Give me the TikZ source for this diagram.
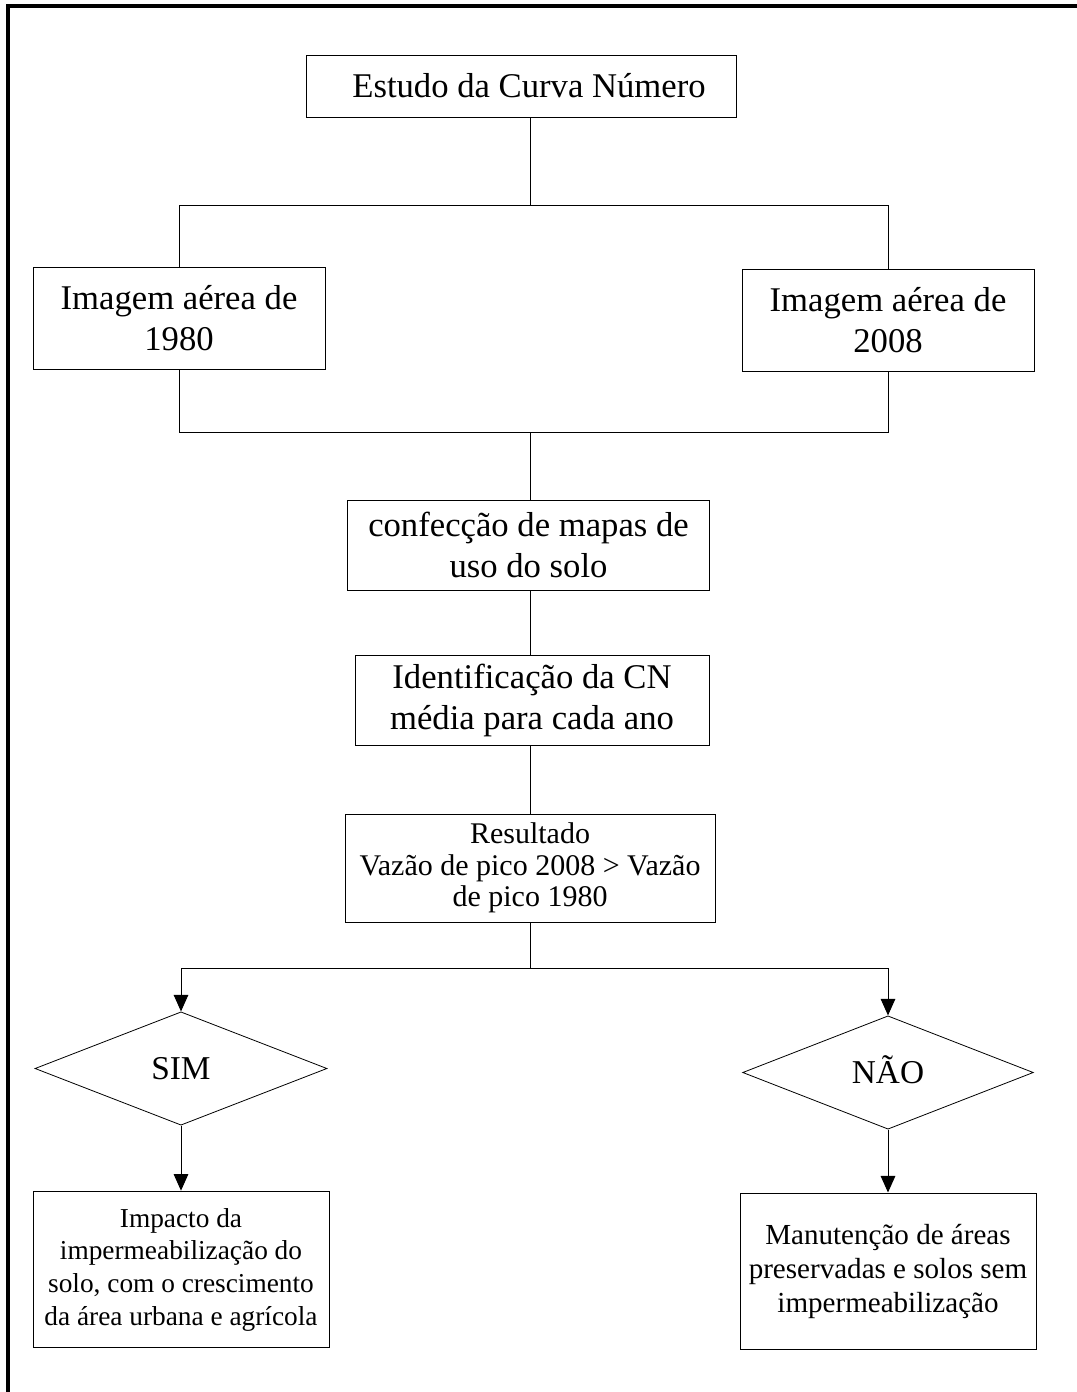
\documentclass[tikz,border=0pt]{standalone}
\usepackage{fontspec}
\setmainfont{Liberation Serif}
\usetikzlibrary{shapes.geometric,arrows.meta}

\tikzset{
    caixa/.style={draw, line width=0.75pt, inner sep=2pt, align=center, font=\fontsize{26}{30.5}\selectfont},
    caixap/.style={caixa, font=\fontsize{21.5}{24.5}\selectfont},
    decisao/.style={draw, diamond, line width=0.6pt, inner sep=0pt, aspect=2.58, font=\fontsize{25}{30}\selectfont},
    liga/.style={line width=0.75pt},
    seta/.style={liga, -{Triangle[width=11pt,length=12.5pt]}}
}

\begin{document}
\begin{tikzpicture}[x=0.75pt,y=0.75pt,yscale=-1,xscale=1]

    \useasboundingbox (0,0) rectangle (1077,1392);
    % moldura
    \draw [line width=2.6pt] (8,1392) -- (8,6) -- (1077,6);

    % caixas
    \node [caixa, minimum width=322.5pt, minimum height=46.5pt] (est) at (521,86) {\hspace*{12pt}Estudo da Curva N\'umero};
    \node [caixa, minimum width=219pt, minimum height=76.5pt] (img80) at (179,318) {Imagem a\'erea de\\1980};
    \node [caixa, minimum width=219pt, minimum height=76.5pt] (img08) at (888,320) {Imagem a\'erea de\\2008};
    \node [caixa, minimum width=272pt, minimum height=67.5pt] (mapas) at (528.5,545) {confec\c{c}\~ao de mapas de\\uso do solo};
    \node [caixa, minimum width=265.5pt, minimum height=68pt] (ident) at (532,700.5) {Identifica\c{c}\~ao da CN\\m\'edia para cada ano};
    \node [caixap, font=\fontsize{22.5}{23.5}\selectfont, minimum width=277.5pt, minimum height=81pt] (res) at (530,868) {Resultado\\Vaz\~ao de pico 2008 > Vaz\~ao\\de pico 1980};

    % decisoes
    \node [decisao, minimum width=219pt, minimum height=85pt] (sim) at (181,1068.5) {SIM};
    \node [decisao, minimum width=218pt, minimum height=85pt] (nao) at (888,1072.5) {\raisebox{4pt}{N\~AO}};

    % resultados finais
    \node [caixap, font=\fontsize{20.5}{24.5}\selectfont, minimum width=222pt, minimum height=117.5pt] (impacto) at (181,1269.5) {Impacto da\\imperme\-abiliza\c{c}\~ao do\\solo, com o crescimento\\da \'area urbana e agr\'icola};
    \node [caixap, font=\fontsize{21.8}{25.5}\selectfont, minimum width=222pt, minimum height=117pt] (manut) at (888,1271) {Manuten\c{c}\~ao de \'areas\\preservadas e solos sem\\impermeabiliza\c{c}\~ao};

    % ligacoes
    \coordinate (j1) at (530,205);
    \coordinate (j2) at (530,432);
    \coordinate (j3) at (530,968);
    \draw [liga] (est.south -| j1) -- (j1);
    \draw [liga] (img80.north) -- (img80.north |- j1) -- (img08.north |- j1) -- (img08.north);
    \draw [liga] (img80.south) -- (img80.south |- j2) -- (img08.south |- j2) -- (img08.south);
    \draw [liga] (j2) -- (mapas.north -| j2);
    \draw [liga] (mapas.south -| j2) -- (ident.north -| j2);
    \draw [liga] (ident.south -| j2) -- (res.north -| j2);
    \draw [liga] (res.south -| j3) -- (j3);
    \draw [seta] (j3) -| (sim.north);
    \draw [seta] (j3) -| (nao.north);
    \draw [seta] (sim.south) -- (sim.south |- impacto.north);
    \draw [seta] (nao.south) -- (nao.south |- manut.north);

\end{tikzpicture}
\end{document}
